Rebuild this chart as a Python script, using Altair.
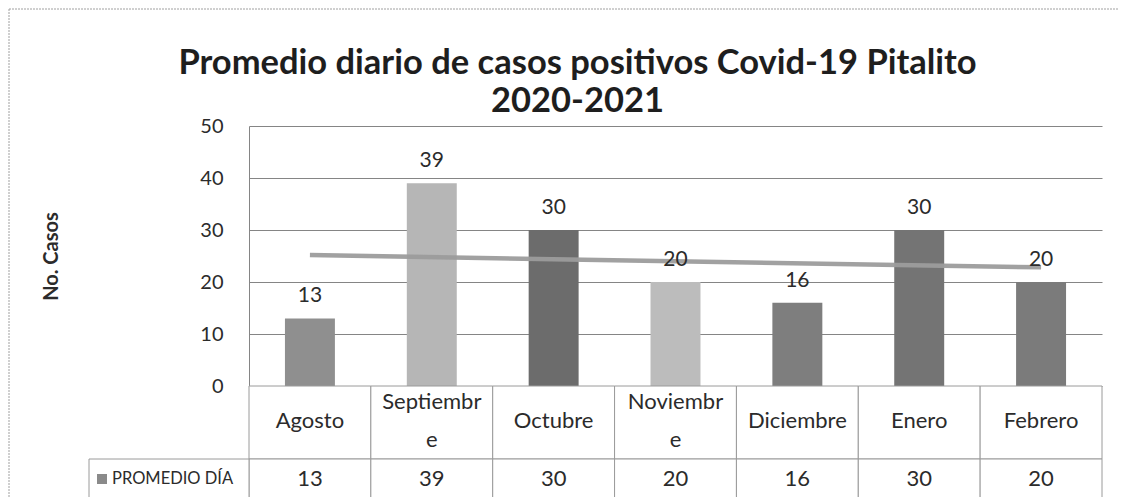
import altair as alt
import pandas as pd

# ---- data ----
months = ["Agosto", "Septiembre", "Octubre", "Noviembre", "Diciembre", "Enero", "Febrero"]
header_labels = ["Agosto", "Septiembr\ne", "Octubre", "Noviembr\ne", "Diciembre", "Enero", "Febrero"]
values = [13, 39, 30, 20, 16, 30, 20]
series_name = "PROMEDIO DÍA"
y_ticks = [0, 10, 20, 30, 40, 50]
title_lines = ["Promedio diario de casos positivos Covid-19 Pitalito", "2020-2021"]
y_title = "No. Casos"

# ---- styles ----
bar_grays = ["#8f8f8f", "#b6b6b6", "#6c6c6c", "#bcbcbc", "#7e7e7e", "#747474", "#7b7b7b"]
FONT = "Lato"
TXT = "#2b2b2b"
LINE = "#9a9a9a"

df = pd.DataFrame({"mes": months, "idx": list(range(len(months))),
                   "casos": values, "etiqueta": header_labels})

W, H = 853, 260
HDR_H, VAL_H = 73, 40

xband = alt.Scale(domain=months, paddingInner=0.59, paddingOuter=0.295)
yscale = alt.Scale(domain=[0, 50], nice=False)

base = alt.Chart(df)

bars = base.mark_bar().encode(
    x=alt.X("mes:N", scale=xband, sort=months, axis=None),
    y=alt.Y("casos:Q", scale=yscale,
            axis=alt.Axis(values=y_ticks, grid=True, gridColor="#858585", gridWidth=1,
                          domain=True, domainColor="#858585", ticks=False,
                          labelPadding=26, labelFont=FONT, labelFontSize=20, labelColor=TXT,
                          title=y_title, titleFont=FONT, titleFontSize=20, titleFontWeight="bold",
                          titleColor=TXT, titleX=-198, titleY=130, titleAlign="center",
                          titleBaseline="middle", titleAngle=270)),
    color=alt.Color("mes:N", scale=alt.Scale(domain=months, range=bar_grays), legend=None),
)

bar_labels = base.mark_text(baseline="middle", dy=-22, font=FONT, fontSize=21, color=TXT).encode(
    x=alt.X("mes:N", scale=xband, sort=months, axis=None),
    y=alt.Y("casos:Q", scale=yscale),
    text=alt.Text("casos:Q"),
)

trend = base.transform_regression("idx", "casos").mark_line(
    color="#9c9c9c", strokeWidth=4.5, opacity=0.95
).encode(
    x=alt.X("idx:Q", scale=alt.Scale(domain=[-0.5, len(months) - 0.5], nice=False, zero=False), axis=None),
    y=alt.Y("casos:Q", scale=yscale),
)

plot = alt.layer(bars, trend, bar_labels).resolve_scale(x="independent").properties(
    width=W, height=H,
    title=alt.TitleParams(text=title_lines, font=FONT, fontSize=34.5, fontWeight="bold",
                          color="#1e1e1e", lineHeight=38, anchor="middle", dx=-98, dy=43,
                          offset=6, baseline="bottom"),
)

# ---- data table: header row ----
xtab = alt.Scale(domain=months, paddingInner=0, paddingOuter=0)
hdr_base = alt.Chart(df).encode(x=alt.X("mes:N", scale=xtab, sort=months, axis=None))
hdr_cells = hdr_base.mark_rect(fill="white", stroke=LINE, strokeWidth=1).encode(
    y=alt.value(0), y2=alt.value(HDR_H))
hdr_text = hdr_base.transform_calculate(
    hoff="indexof(datum.etiqueta, '\\n') >= 0 ? -19 : 0"
).mark_text(lineBreak="\n", font=FONT, fontSize=22, color=TXT,
            baseline="middle", lineHeight=38).encode(
    y=alt.value(HDR_H / 2 - 2), yOffset=alt.YOffset("hoff:Q", scale=None), text="etiqueta:N")
hdr = alt.layer(hdr_cells, hdr_text).properties(width=W, height=HDR_H)

# ---- data table: value row ----
val_base = alt.Chart(df).encode(x=alt.X("mes:N", scale=xtab, sort=months, axis=None))
val_cells = val_base.mark_rect(fill="white", stroke=LINE, strokeWidth=1).encode(
    y=alt.value(0), y2=alt.value(VAL_H))
val_text = val_base.mark_text(font=FONT, fontSize=22, color=TXT, baseline="middle").encode(
    y=alt.value(VAL_H / 2), text="casos:Q")

leg_df = pd.DataFrame({"serie": [series_name]})
leg_cell = alt.Chart(leg_df).mark_rect(fill="white", stroke=LINE, strokeWidth=1).encode(
    x=alt.value(-160), x2=alt.value(0), y=alt.value(0), y2=alt.value(VAL_H))
leg_sym = alt.Chart(leg_df).mark_square(size=100, color="#8a8a8a", opacity=1).encode(
    x=alt.value(-147), y=alt.value(VAL_H / 2))
leg_txt = alt.Chart(leg_df).mark_text(align="left", baseline="middle", font=FONT, fontSize=16.5,
                                      color=TXT).encode(
    x=alt.value(-137), y=alt.value(VAL_H / 2), text="serie:N")

# outer chart-area frame (dotted scan border)
frame_top = alt.Chart(leg_df).mark_rule(color="#a0a0a0", strokeWidth=1, strokeDash=[2, 1]).encode(
    x=alt.value(-240), x2=alt.value(870), y=alt.value(-450))
frame_left = alt.Chart(leg_df).mark_rule(color="#a0a0a0", strokeWidth=1, strokeDash=[2, 1]).encode(
    x=alt.value(-240), y=alt.value(-450), y2=alt.value(VAL_H))

val = alt.layer(frame_top, frame_left, val_cells, val_text, leg_cell, leg_sym, leg_txt).properties(
    width=W, height=VAL_H)

chart = alt.vconcat(plot, hdr, val, spacing=0, bounds="flush").properties(
    padding=0, background="white"
).configure_view(strokeWidth=0)

chart.save("out.html", embed_options={"renderer": "svg", "actions": False})
